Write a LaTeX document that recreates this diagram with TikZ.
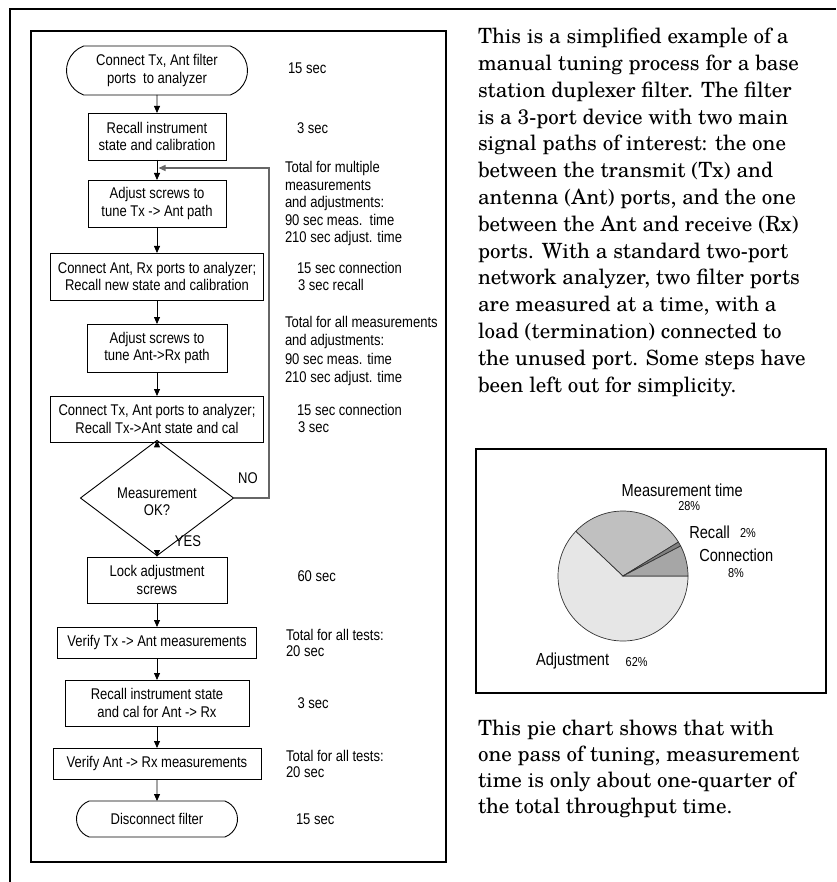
\documentclass[tikz,border=0pt]{standalone}
\usepackage{fontspec}
\setmainfont{TeX Gyre Schola}
\newfontfamily\nar{Liberation Sans}[FakeStretch=0.84]
\usetikzlibrary{arrows.meta,shapes.geometric,shapes.misc}
\definecolor{adjc}{HTML}{E6E6E6}
\definecolor{measc}{HTML}{C0C0C0}
\definecolor{recc}{HTML}{808080}
\definecolor{connc}{HTML}{A6A6A6}
\begin{document}
\begin{tikzpicture}[x=1pt,y=-1pt,
 every node/.style={inner sep=0pt,outer sep=0pt},
 ff/.style={font=\nar\fontsize{15.5}{17.5}\selectfont},
 flow/.style={ff,draw,line width=0.9pt,align=center},
 box/.style={flow,rectangle},
 term/.style={flow,rounded rectangle,rounded rectangle arc length=140},
 dec/.style={flow,diamond},
 note/.style={ff,anchor=base west,align=left},
 arr/.style={draw,line width=0.8pt,-{Triangle[length=7pt,width=6pt]}},
 back/.style={draw=black!60,line width=1.3pt,-{Triangle[length=7pt,width=6pt]}},
 frame/.style={draw,line width=1.2pt},
 para/.style={anchor=base west,align=left,font=\fontsize{21}{26.8}\selectfont},
 plab/.style={anchor=base west,font=\nar\fontsize{17.4}{20}\selectfont},
 ppct/.style={anchor=base west,font=\nar\fontsize{13}{15}\selectfont},
 slice/.style={draw=black!80,line width=0.7pt},
]
\useasboundingbox (0,0) rectangle (836,882);
\fill[white] (0,0) rectangle (836,882);
\draw[frame,line width=1.5pt] (10,882) -- (10,9) -- (836,9);
\draw[frame] (31,31) rectangle (446,862);
\draw[frame] (476,449) rectangle (826,693);

% flowchart
\node[term,minimum width=181pt,minimum height=49pt] (n1) at (157,70.5) {Connect Tx, Ant filter\\ports~ to analyzer};
\node[box,minimum width=138pt,minimum height=47pt] (n2) at (157,136.5) {Recall instrument\\state and calibration};
\node[box,minimum width=138pt,minimum height=47pt] (n3) at (157,203.5) {Adjust screws to\\tune Tx -> Ant path};
\node[box,minimum width=213pt,minimum height=47pt] (n4) at (157,276.5) {Connect Ant, Rx ports to analyzer;\\Recall new state and calibration};
\node[box,minimum width=140pt,minimum height=48pt] (n5) at (157,348) {Adjust screws to\\tune Ant->Rx path};
\node[box,minimum width=213pt,minimum height=46pt] (n6) at (157,419) {Connect Tx, Ant ports to analyzer;\\Recall Tx->Ant state and cal};
\node[dec,minimum width=153pt,minimum height=66pt] (n7) at (157,498) {\rule{0pt}{18pt}Measurement\\OK?};
\node[box,minimum width=140pt,minimum height=46pt] (n8) at (157,580) {Lock adjustment\\screws};
\node[box,minimum width=199pt,minimum height=31pt] (n9) at (157,642.5) {Verify Tx -> Ant measurements};
\node[box,minimum width=184pt,minimum height=46pt] (n10) at (157,703) {Recall instrument state\\and cal for Ant -> Rx};
\node[box,minimum width=208pt,minimum height=31pt] (n11) at (157,763.5) {Verify Ant -> Rx measurements};
\node[term,minimum width=161pt,minimum height=36pt] (n12) at (157,819) {Disconnect filter};

\draw[arr] (n1) -- (n2);
\draw[arr] (n2) -- (n3);
\draw[arr] (n3) -- (n4);
\draw[arr] (n4) -- (n5);
\draw[arr] (n5) -- (n6);
\draw[arr] (n6) -- (n7);
\draw[arr] (n7) -- (n8);
\draw[arr] (n8) -- (n9);
\draw[arr] (n9) -- (n10);
\draw[arr] (n10) -- (n11);
\draw[arr] (n11) -- (n12);

\coordinate (c1) at (269,498);
\coordinate (c2) at (269,168);
\coordinate (c3) at (158.5,168);
\draw[back] (n7.east) -- (c1) -- (c2) -- (c3);

% side notes (multi-line nodes are anchored at the baseline of their last line)
\node[note] (t1) at (288,74) {15 sec};
\node[note] (t2) at (297,134) {3 sec};
\node[note] (t3) at (285,242.7) {Total for multiple\\measurements\\and adjustments:\\90 sec meas.\ \ time\\210 sec adjust. time};
\node[note] (t4) at (297,290.8) {15 sec connection\\\hspace{1pt}3 sec recall};
\node[note,font=\nar\fontsize{15.5}{18.2}\selectfont] (t5) at (285,382.3) {Total for all measurements\\and adjustments:\\90 sec meas. time\\210 sec adjust. time};
\node[note] (t6) at (297,432.5) {15 sec connection\\\hspace{1pt}3 sec};
\node[ff,anchor=base] (no) at (248,483.3) {NO};
\node[ff,anchor=base] (yes) at (188,546) {YES};
\node[note] (t7) at (297.5,581.7) {60 sec};
\node[note,font=\nar\fontsize{15.5}{16.8}\selectfont] (t8) at (286,656.8) {Total for all tests:\\20 sec};
\node[note] (t9) at (297.5,708.3) {3 sec};
\node[note,font=\nar\fontsize{15.5}{16.8}\selectfont] (t10) at (286,777.8) {Total for all tests:\\20 sec};
\node[note] (t11) at (296,824) {15 sec};

% paragraphs
\node[para] (p1) at (478,392) {This is a simplified example of a\\manual tuning process for a base\\station duplexer filter. The filter\\is a 3-port device with two main\\signal paths of interest: the one\\between the transmit (Tx) and\\antenna (Ant) ports, and the one\\between the Ant and receive (Rx)\\ports. With a standard two-port\\network analyzer, two filter ports\\are measured at a time, with a\\load (termination) connected to\\the unused port. Some steps have\\been left out for simplicity.};
\node[para,font=\fontsize{21}{26}\selectfont] (p2) at (478,813) {This pie chart shows that with\\one pass of tuning, measurement\\time is only about one-quarter of\\the total throughput time.};

% pie
\begin{scope}[shift={(623,576)},yscale=-1]
\filldraw[slice,fill=adjc] (0,0) -- (136.5:65) arc[start angle=136.5,end angle=360,radius=65] -- cycle;
\filldraw[slice,fill=measc] (0,0) -- (31.5:65) arc[start angle=31.5,end angle=136.5,radius=65] -- cycle;
\filldraw[slice,fill=recc] (0,0) -- (27.5:65) arc[start angle=27.5,end angle=31.5,radius=65] -- cycle;
\filldraw[slice,fill=connc] (0,0) -- (0:65) arc[start angle=0,end angle=27.5,radius=65] -- cycle;
\end{scope}
\node[plab] (lm) at (621.7,496) {Measurement time};
\node[ppct] (pm) at (678.3,510) {28\%};
\node[plab] (lr) at (689.3,538.3) {Recall};
\node[ppct] (pr) at (740,537.3) {2\%};
\node[plab] (lc) at (699.3,561.7) {Connection};
\node[ppct] (pc) at (728,577.3) {8\%};
\node[plab] (la) at (536,665) {Adjustment};
\node[ppct] (pa) at (625.7,666) {62\%};
\end{tikzpicture}
\end{document}
